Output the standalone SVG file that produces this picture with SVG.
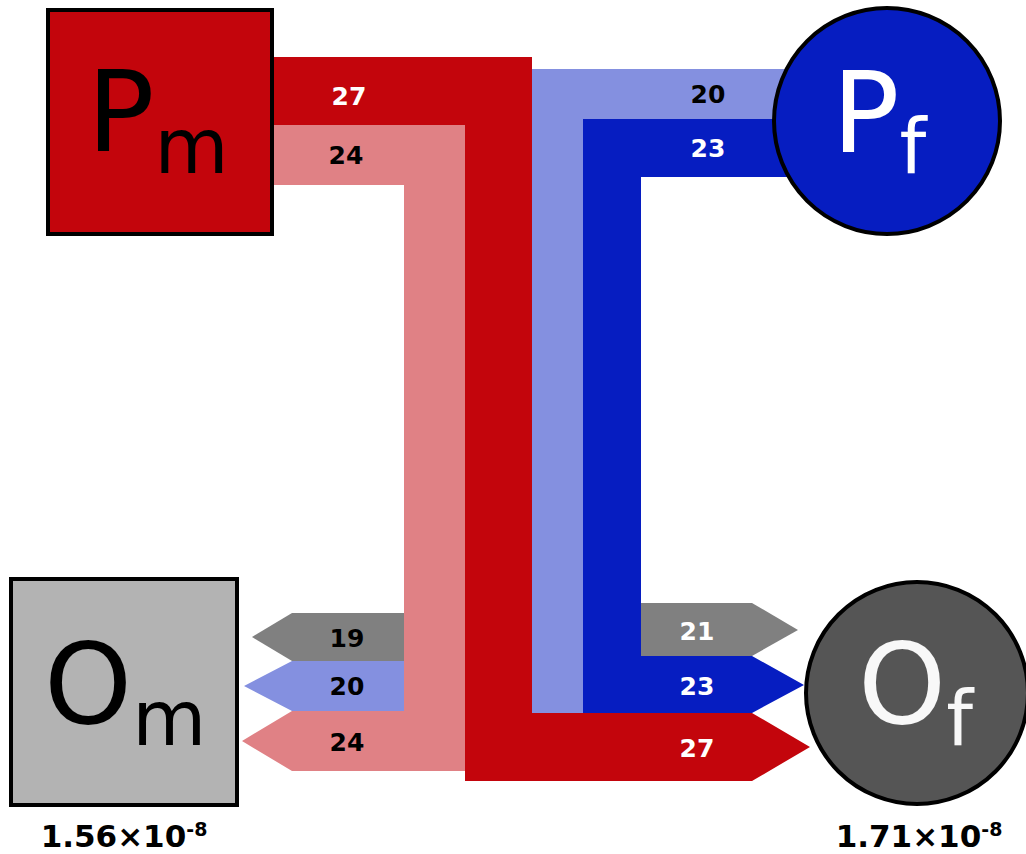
<svg xmlns="http://www.w3.org/2000/svg" width="1026" height="854" viewBox="0 0 1026 854">
<style>
.lbl{font-family:"DejaVu Sans",sans-serif;font-weight:bold;font-size:25px;text-anchor:middle}
.w{fill:#ffffff}.k{fill:#000000}
.big{font-family:"DejaVu Sans",sans-serif;font-size:112px}
.sub{font-size:76px}
.val{font-family:"DejaVu Sans",sans-serif;font-weight:bold;font-size:31px;text-anchor:middle;fill:#000}
.node{stroke:#000;stroke-width:4}
</style>
<rect width="1026" height="854" fill="#ffffff"/>
<g id="connectors">
<polygon id="pf-om" fill="#8490e0" points="800,69 532,69 532,661 292,661 244,686 292,711 532,711 532,713 583,713 583,119 800,119"/>
<polygon id="pm-om" fill="#e08185" points="274,125 465,125 465,771 292,771 242,741 292,711 404,711 404,185 274,185"/>
<polygon id="pm-of" fill="#c3050c" points="274,57 532,57 532,713 752,713 810,747 752,781 465,781 465,125 274,125"/>
<polygon id="pf-of" fill="#061dc1" points="800,119 583,119 583,713 752,713 804,685 752,656 641,656 641,177 800,177"/>
<polygon id="x-om" fill="#808080" points="404,613 292,613 252,637 292,661 404,661"/>
<polygon id="x-of" fill="#808080" points="641,603 752,603 798,630 752,656 641,656"/>
<text class="lbl w" x="349" y="105">27</text>
<text class="lbl k" x="346" y="164">24</text>
<text class="lbl k" x="708" y="103">20</text>
<text class="lbl w" x="708" y="157">23</text>
<text class="lbl k" x="347" y="647">19</text>
<text class="lbl k" x="347" y="695">20</text>
<text class="lbl k" x="347" y="751">24</text>
<text class="lbl w" x="697" y="640">21</text>
<text class="lbl w" x="697" y="695">23</text>
<text class="lbl w" x="697" y="757">27</text>
</g>
<g id="Pm">
<rect class="node" x="48" y="10" width="224" height="224" fill="#c3050c"/>
<text class="big" x="87" y="151" fill="#000">P<tspan class="sub" dy="22">m</tspan></text>
</g>
<g id="Pf">
<circle class="node" cx="887" cy="121" r="113" fill="#061dc1"/>
<text class="big" x="832" y="152" fill="#fff">P<tspan class="sub" dy="21">f</tspan></text>
</g>
<g id="Om">
<rect class="node" x="11" y="579" width="226" height="226" fill="#b3b3b3"/>
<text class="big" x="44" y="723" fill="#000">O<tspan class="sub" dy="22">m</tspan></text>
<text class="val" x="124" y="847">1.56×10<tspan font-size="19" dy="-11">-8</tspan></text>
</g>
<g id="Of">
<circle class="node" cx="917" cy="693" r="111" fill="#555555"/>
<text class="big" x="858" y="723" fill="#f8f8f8">O<tspan class="sub" dy="22">f</tspan></text>
<text class="val" x="919" y="847">1.71×10<tspan font-size="19" dy="-11">-8</tspan></text>
</g>
</svg>
